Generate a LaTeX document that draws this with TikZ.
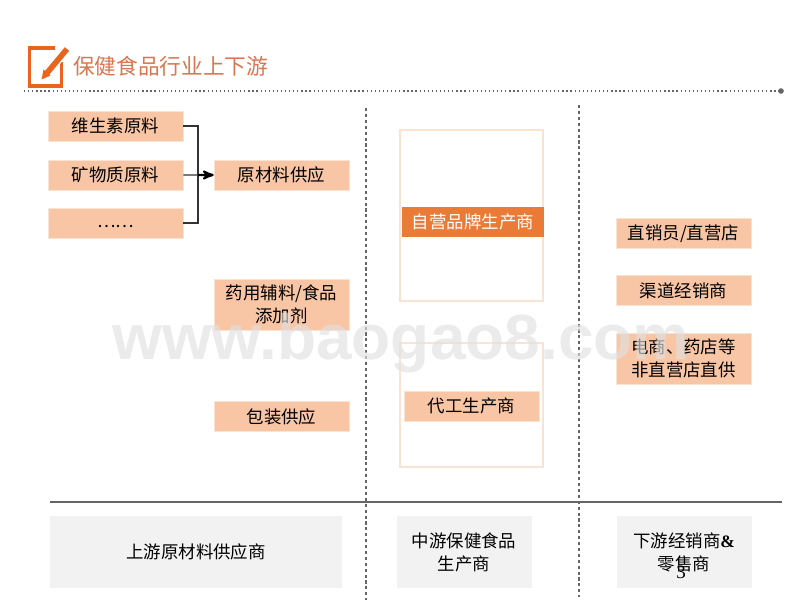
\documentclass[tikz,border=0pt]{standalone}
\usepackage{fontspec}
\setmainfont{Noto Sans CJK SC}
\newfontfamily\latinserif{Liberation Serif}
\newfontfamily\marksans{Liberation Sans}
\usepackage{tikz}
\usetikzlibrary{positioning}
\usetikzlibrary{arrows}
\definecolor{peach}{HTML}{F8C6A5}
\definecolor{peachline}{HTML}{FBE3D3}
\definecolor{deeporange}{HTML}{E97B37}
\definecolor{iconorange}{HTML}{E8651C}
\definecolor{titleorange}{HTML}{D9764F}
\definecolor{panelgrey}{HTML}{F2F2F2}
\definecolor{rulegrey}{HTML}{666666}
\tikzset{
  boxbase/.style={minimum width=3.375cm,minimum height=0.75cm,inner sep=0pt,align=center,
    font=\fontsize{12.4}{16.5}\selectfont},
  rawbox/.style={boxbase,fill=peach,draw=peachline,line width=0.4pt},
  tallbox/.style={rawbox,minimum height=1.28cm},
  darkbox/.style={boxbase,fill=deeporange,text=white,minimum width=3.55cm},
  greybox/.style={boxbase,fill=panelgrey,minimum height=1.8cm},
  framebox/.style={draw=peachline,line width=0.8pt,minimum width=3.575cm,inner sep=0pt},
  divider/.style={rulegrey,line width=0.9pt,dash pattern=on 2.2pt off 2pt}
}
\begin{document}
\begin{tikzpicture}[x=0.025cm,y=-0.025cm,>=stealth',node distance=1.225cm]
  \useasboundingbox (0,0) rectangle (800,600);
  % title
  \node (title) [anchor=west,text=titleorange,inner sep=0pt,font=\fontsize{15.4}{18}\selectfont] at (73,66) {保健食品行业上下游};
  \draw[iconorange,line width=2.8pt,line join=miter] (55,48) -- (29.5,48) -- (29.5,86) -- (61.5,86) -- (61.5,62);
  \draw[white,line width=6pt] (46,74) -- (67,49);
  \draw[iconorange,line width=4pt] (47,73) -- (67,49);
  \fill[iconorange] (41.5,79.5) -- (43.5,69.5) -- (50.5,75.5) -- cycle;
  \coordinate (dotstart) at (24,91);
  \coordinate (dotend) at (781,91);
  \draw[rulegrey,line width=0.9pt,dotted] (dotstart) -- (dotend);
  \fill[rulegrey] (dotend) circle (2.8);

  % column dividers and base rule
  \coordinate (cuttop) at (366,108);
  \coordinate (cutbot) at (366,600);
  \coordinate (cuttwotop) at (579,105);
  \coordinate (cuttwobot) at (579,597);
  \coordinate (ruleleft) at (50,502);
  \coordinate (ruleright) at (782,502);
  \draw[divider] (cuttop) -- (cutbot);
  \draw[divider] (cuttwotop) -- (cuttwobot);
  \draw[rulegrey,line width=0.8pt] (ruleleft) -- (ruleright);

  % upstream
  \node (vitamin) [rawbox] at (115.5,126) {维生素原料};
  \node (mineral) [rawbox,below of=vitamin] {矿物质原料};
  \node (etc) [rawbox,below of=mineral,node distance=1.2cm] {\smash{\raisebox{-3pt}{……}}};
  \node (supply) [rawbox,right of=mineral,node distance=4.15cm] {原材料供应};
  \node (additive) [tallbox,below of=supply,node distance=3.24cm] {药用辅料/食品\\添加剂};
  \node (packing) [rawbox,below of=additive,node distance=2.8cm] {包装供应};
  \coordinate (joint) at (198,175);
  \draw[black!80,line width=0.8pt] (vitamin.east) -| (joint);
  \draw[black!80,line width=0.8pt] (etc.east) -| (joint);
  \draw[black!80,line width=0.8pt] (mineral.east) -- (joint);
  \draw[->,black,line width=1.6pt] (joint) -- (supply.west);

  % midstream
  \node (ownframe) [framebox,minimum height=4.275cm] at (471.5,215.5) {};
  \node (oemframe) [framebox,minimum height=3.1cm] at (471.5,405) {};
  \node (ownbrand) [darkbox] at (473,222) {自营品牌生产商};
  \node (oem) [rawbox] at (471.5,406) {代工生产商};

  % downstream
  \node (direct) [rawbox] at (683.5,233.5) {直销员/直营店};
  \node (channel) [rawbox,below of=direct,node distance=1.425cm] {渠道经销商};
  \node (online) [tallbox,below of=channel,node distance=1.7cm] {电商、药店等\\非直营店直供};

  % bottom row
  \node (upper) [greybox,minimum width=7.3cm] at (196,552) {上游原材料供应商};
  \node (middle) [greybox,right of=upper,node distance=6.7cm] {中游保健食品\\生产商};
  \node (lower) [greybox,right of=middle,node distance=5.5cm] {下游经销商{\latinserif\bfseries\&}\\零售商};
  \node (pagenum) [inner sep=0pt,font=\latinserif\fontsize{13.5}{14}\selectfont] at (681,572) {3};

  % watermark
  \node (mark) [text=black!12,opacity=0.65,inner sep=0pt,font=\marksans\bfseries\fontsize{45.5}{50}\selectfont] at (401,343) {www.baogao8.com};
\end{tikzpicture}
\end{document}
